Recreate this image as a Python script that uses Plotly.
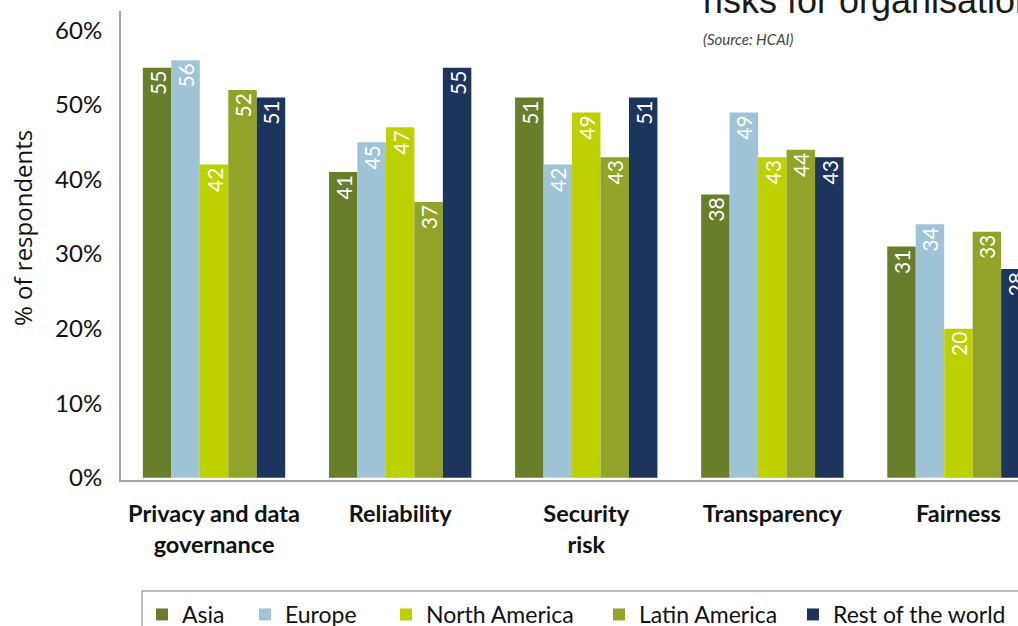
import plotly.graph_objects as go

categories = ["Privacy and data<br>governance", "Reliability", "Security<br>risk", "Transparency", "Fairness"]
regions = ["Asia", "Europe", "North America", "Latin America", "Rest of the world"]

asia = [55, 41, 51, 38, 31]
europe = [56, 45, 42, 49, 34]
north_america = [42, 47, 49, 43, 20]
latin_america = [52, 37, 43, 44, 33]
rest_of_world = [51, 55, 51, 43, 28]

series = [asia, europe, north_america, latin_america, rest_of_world]
colors = ["#687e2a", "#9fc3d7", "#bdd100", "#91a328", "#1d355d"]

W, H = 1018, 626
L, R, T, B = 121, 0, 11, 146
PW, PH = W - L - R, H - T - B

# left edge of each legend swatch in the reference, px
legend_x = [155, 258, 399, 612, 806]

fig = go.Figure()
for i, (name, vals, col) in enumerate(zip(regions, series, colors)):
    fig.add_trace(go.Bar(
        x=categories,
        y=[v / 100 for v in vals],
        name=name,
        marker_color=col,
        marker_line_width=0,
        text=[str(v) for v in vals],
        textposition="inside",
        insidetextanchor="end",
        textangle=-90,
        constraintext="none",
        textfont=dict(family="Lato", size=21, color="white"),
        legend="legend" if i == 0 else f"legend{i + 1}",
        showlegend=True,
    ))

legend_base = dict(
    orientation="h",
    xref="container",
    yref="container",
    xanchor="left",
    yanchor="top",
    y=1 - 593 / H,
    borderwidth=0,
    bgcolor="rgba(0,0,0,0)",
    font=dict(family="Lato", size=23, color="#111111"),
    itemwidth=30,
)
legends = {}
for i, lx in enumerate(legend_x):
    key = "legend" if i == 0 else f"legend{i + 1}"
    legends[key] = dict(legend_base, x=(lx - 13) / W)

fig.update_layout(
    width=W,
    height=H,
    showlegend=True,
    margin=dict(l=L, r=R, t=T, b=B, autoexpand=False),
    barmode="group",
    bargap=0.235,
    bargroupgap=0,
    plot_bgcolor="white",
    paper_bgcolor="white",
    font=dict(family="Lato", color="#000000"),
    xaxis=dict(
        range=[-0.5, 4.32],
        automargin=False,
        showline=True,
        linecolor="#a6a6a6",
        linewidth=2,
        ticks="",
        tickfont=dict(family="Lato", size=23.5, color="#111111", weight="bold"),
        ticklabelstandoff=12,
    ),
    yaxis=dict(
        range=[-0.003, 0.626],
        automargin=False,
        tickvals=[0, 0.1, 0.2, 0.3, 0.4, 0.5, 0.6],
        tickformat=".0%",
        showgrid=False,
        zeroline=False,
        showline=True,
        linecolor="#a6a6a6",
        linewidth=2,
        ticks="",
        ticklabelstandoff=12,
        tickfont=dict(family="Lato", size=24, color="#111111"),
    ),
    **legends,
)

# legend frame
fig.add_shape(
    type="rect",
    xref="paper", yref="paper",
    x0=(142 - L) / PW, x1=(1040 - L) / PW,
    y0=(H - B - 591) / PH, y1=(H - B - 660) / PH,
    line=dict(color="#a6a6a6", width=1.5),
    fillcolor="rgba(0,0,0,0)",
)

# y-axis title placed as an annotation (sits above the plot centre in the reference)
fig.add_annotation(
    text="% of respondents",
    xref="paper", yref="paper",
    x=(22 - L) / PW, y=(H - B - 228) / PH,
    xanchor="center", yanchor="middle",
    textangle=-90,
    showarrow=False,
    font=dict(family="Open Sans", size=24, color="#111111"),
)
fig.add_annotation(
    text="risks for organisations",
    xref="paper", yref="paper",
    x=(701 - L) / PW, y=1.0,
    xanchor="left", yanchor="bottom",
    yshift=-12,
    showarrow=False,
    font=dict(family="Liberation Sans", size=36, color="#1a1a1a"),
)
fig.add_annotation(
    text="<i>(Source: HCAI)</i>",
    xref="paper", yref="paper",
    x=(701 - L) / PW, y=1.0,
    xanchor="left", yanchor="top",
    yshift=-17,
    showarrow=False,
    font=dict(family="Lato", size=15, color="#444444"),
)

fig.write_html(
    "out.html",
    config={"displayModeBar": False},
    post_script="document.body.style.margin='0';",
)
